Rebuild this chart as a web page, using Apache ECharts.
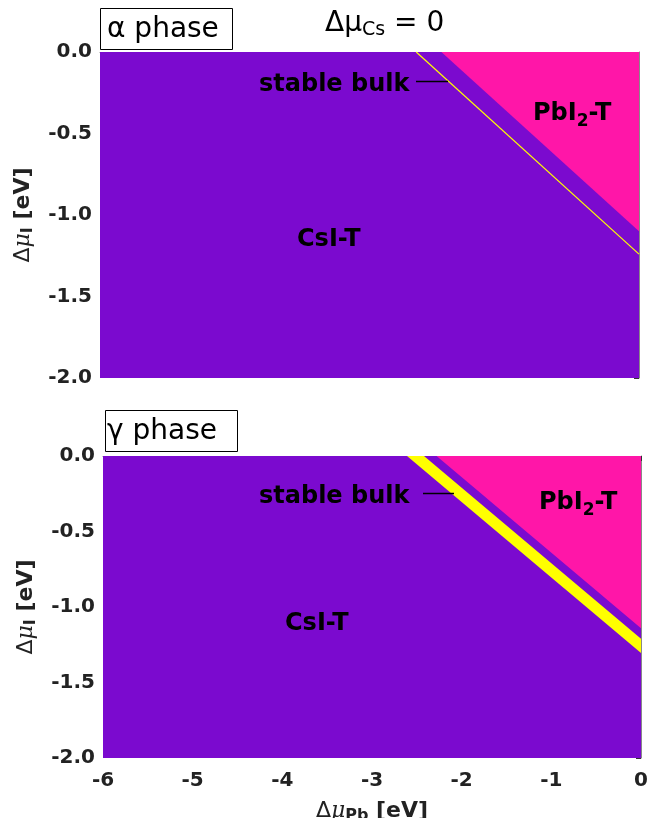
<!DOCTYPE html>
<html>
<head>
<meta charset="utf-8">
<script src="https://cdn.jsdelivr.net/npm/echarts@6/dist/echarts.min.js"></script>
<style>html,body{margin:0;padding:0;background:#fff}#c{width:655px;height:818px}</style>
</head>
<body>
<div id="c"></div>
<script>
// ---- data ----
const xTicks = [-6, -5, -4, -3, -2, -1, 0];
const yTicks = [-2.0, -1.5, -1.0, -0.5, 0.0];
// alpha phase regions (x = Δμ_Pb, y = Δμ_I)
const alphaCsI = [[-6, 0], [0, 0], [0, -2], [-6, -2]];
const alphaPbI2 = [[-2.2, 0], [0, 0], [0, -1.1]];
const alphaStable = [[-2.48, 0], [0, -1.24]];
// gamma phase regions
const gammaCsI = [[-6, 0], [0, 0], [0, -2], [-6, -2]];
const gammaPbI2 = [[-2.28, 0], [0, 0], [0, -1.14]];
const gammaStable = [[-2.61, 0], [-2.42, 0], [0, -1.21], [0, -1.305]];

const PURPLE = '#7b0acf';
const PINK = '#ff16a8';
const YELLOW = '#ffff00';
const FONT = 'DejaVu Sans';

function poly(points, color, idx) {
  return {
    type: 'custom', xAxisIndex: idx, yAxisIndex: idx, data: [0], silent: true,
    renderItem: function (params, api) {
      return { type: 'polygon', shape: { points: points.map(p => api.coord(p)) },
        style: { fill: color } };
    }
  };
}

const chart = echarts.init(document.getElementById('c'), null, { renderer: 'canvas' });

const nameRich = {
  m: { fontFamily: 'DejaVu Sans', fontSize: 22, color: '#222' },
  i: { fontFamily: 'DejaVu Serif', fontStyle: 'italic', fontSize: 22, color: '#222' },
  s: { fontFamily: FONT, fontWeight: 'bold', fontSize: 16, color: '#222', verticalAlign: 'bottom', padding: [10, 0, 0, 0] },
  b: { fontFamily: FONT, fontWeight: 'bold', fontSize: 22, color: '#222' }
};

function yAxis(idx) {
  return {
    type: 'value', gridIndex: idx, min: -2, max: 0, interval: 0.5,
    axisLine: { show: true, lineStyle: { color: '#888', width: 1 } },
    axisTick: { show: true, length: 5, lineStyle: { color: '#333' } },
    splitLine: { show: false },
    axisLabel: { color: '#222', fontFamily: FONT, fontWeight: 'bold', fontSize: 20, margin: 8,
      formatter: v => v.toFixed(1) },
    name: '{m|Δ}{i|μ}{s|I}{b| [eV]}', nameLocation: 'middle', nameRotate: 90, nameGap: 64,
    nameTextStyle: { rich: nameRich }
  };
}

function textEl(left, top, text) {
  return { type: 'text', left: left, top: top, z: 100, style: { text: text, fontFamily: FONT, fontWeight: 'bold', fontSize: 24, fill: '#000' } };
}
function pbiEl(left, top) {
  return { type: 'text', left: left, top: top, z: 100, style: { text: '{a|PbI}{s|2}{a|-T}', rich: {
    a: { fontFamily: FONT, fontWeight: 'bold', fontSize: 24, fill: '#000' },
    s: { fontFamily: FONT, fontWeight: 'bold', fontSize: 17, fill: '#000', verticalAlign: 'bottom', padding: [16, 0, 0, 0] } } } };
}

const option = {
  animation: false,
  backgroundColor: '#fff',
  grid: [
    { left: 100, top: 52, width: 539, height: 326, outerBoundsMode: 'none', containLabel: false },
    { left: 103, top: 456, width: 538, height: 302, outerBoundsMode: 'none', containLabel: false }
  ],
  xAxis: [
    { type: 'value', gridIndex: 0, min: -6, max: 0, interval: 1,
      axisLine: { show: true, lineStyle: { color: '#888' } }, axisTick: { show: false },
      axisLabel: { show: false }, splitLine: { show: false } },
    { type: 'value', gridIndex: 1, min: -6, max: 0, interval: 1,
      axisLine: { show: true, lineStyle: { color: '#888' } },
      axisTick: { show: true, length: 5, lineStyle: { color: '#333' } },
      splitLine: { show: false },
      axisLabel: { color: '#222', fontFamily: FONT, fontWeight: 'bold', fontSize: 20, margin: 13,
        formatter: v => xTicks.includes(v) ? String(v) : '' },
      name: '{m|Δ}{i|μ}{s|Pb}{b| [eV]}', nameLocation: 'middle', nameGap: 40,
      nameTextStyle: { rich: nameRich } }
  ],
  yAxis: [yAxis(0), yAxis(1)],
  series: [
    poly(alphaCsI, PURPLE, 0),
    poly(alphaPbI2, PINK, 0),
    { type: 'line', xAxisIndex: 0, yAxisIndex: 0, data: alphaStable, symbol: 'none', silent: true,
      lineStyle: { color: YELLOW, width: 1.2 } },
    poly(gammaCsI, PURPLE, 1),
    poly(gammaPbI2, PINK, 1),
    poly(gammaStable, YELLOW, 1)
  ],
  graphic: [
    // title
    { type: 'text', left: 325, top: 10, z: 100, style: {
      text: '{a|Δμ}{s|Cs}{a| = 0}', rich: {
        a: { fontFamily: FONT, fontSize: 28, fill: '#000' },
        s: { fontFamily: FONT, fontSize: 19, fill: '#000', verticalAlign: 'bottom', padding: [12, 0, 0, 0] }
      } } },
    // phase boxes
    { type: 'rect', z: 100, shape: { x: 100.5, y: 8.5, width: 132, height: 41 }, style: { fill: '#fff', stroke: '#000', lineWidth: 1 } },
    { type: 'text', z: 101, left: 107, top: 16, style: { text: 'α phase', fontFamily: FONT, fontSize: 28, fill: '#000' } },
    { type: 'rect', z: 100, shape: { x: 105.5, y: 410.5, width: 132, height: 41 }, style: { fill: '#fff', stroke: '#000', lineWidth: 1 } },
    { type: 'text', z: 101, left: 107, top: 418, style: { text: 'γ phase', fontFamily: FONT, fontSize: 28, fill: '#000' } },
    // alpha annotations
    textEl(259, 73, 'stable bulk'),
    { type: 'line', z: 100, shape: { x1: 416, y1: 81.5, x2: 448, y2: 81.5 }, style: { stroke: '#000', lineWidth: 1.5 } },
    pbiEl(533, 102),
    textEl(297, 228, 'CsI-T'),
    // gamma annotations
    textEl(259, 485, 'stable bulk'),
    { type: 'line', z: 100, shape: { x1: 423, y1: 493.5, x2: 454, y2: 493.5 }, style: { stroke: '#000', lineWidth: 1.5 } },
    pbiEl(539, 491),
    textEl(285, 612, 'CsI-T')
  ]
};
chart.setOption(option);
</script>
</body>
</html>
